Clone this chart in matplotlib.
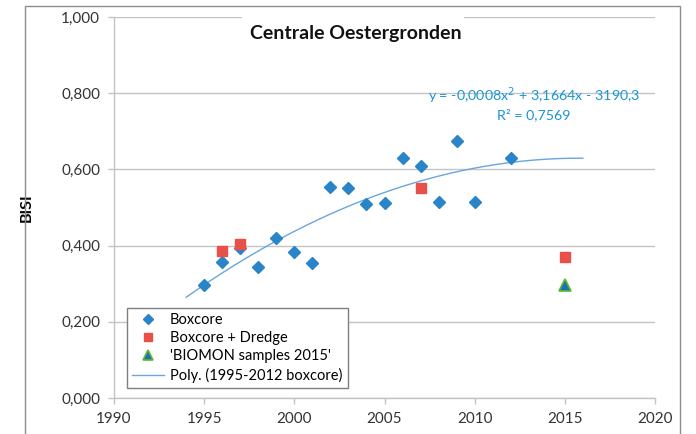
import numpy as np
import matplotlib
matplotlib.use("Agg")
import matplotlib.pyplot as plt
from matplotlib.patches import Rectangle
from matplotlib.ticker import FuncFormatter

plt.rcParams['font.family'] = ['Lato', 'DejaVu Sans']

# Boxcore
box_years = [1995, 1996, 1997, 1998, 1999, 2000, 2001, 2002, 2003, 2004,
             2005, 2006, 2007, 2008, 2009, 2010, 2012]
box_bisi = [0.297, 0.357, 0.394, 0.345, 0.420, 0.384, 0.355, 0.554, 0.551, 0.509,
            0.511, 0.630, 0.609, 0.514, 0.675, 0.515, 0.630]

# Boxcore + Dredge
dredge_years = [1996, 1997, 2007, 2015]
dredge_bisi = [0.387, 0.405, 0.551, 0.370]

# BIOMON samples 2015
biomon_years = [2015]
biomon_bisi = [0.296]

x_ticks = [1990, 1995, 2000, 2005, 2010, 2015, 2020]
y_ticks = [0.0, 0.2, 0.4, 0.6, 0.8, 1.0]

blue = '#2a84c8'
red = '#e8504a'
grey = '#c4c4c4'

fig = plt.figure(figsize=(6.96, 4.34), dpi=100)
ax = fig.add_axes([114 / 696, 1 - 398 / 434, 541 / 696, 381 / 434])

# outer chart border
fig.patches.append(Rectangle((25 / 696, -0.1), 655 / 696, 1.1 - 6 / 434,
                             transform=fig.transFigure, fill=False,
                             edgecolor='#8c8c8c', linewidth=1.0))

ax.set_xlim(1990, 2020)
ax.set_ylim(0, 1.0)
ax.set_xticks(x_ticks)
ax.set_yticks(y_ticks)
ax.yaxis.set_major_formatter(FuncFormatter(lambda v, p: f"{v:.3f}".replace('.', ',')))
ax.grid(axis='y', color=grey, linewidth=1.0, zorder=0)
ax.set_axisbelow(True)
for s in ['top', 'right']:
    ax.spines[s].set_visible(False)
for s in ['left', 'bottom']:
    ax.spines[s].set_color(grey)
    ax.spines[s].set_linewidth(1.0)
ax.tick_params(axis='both', colors=grey, length=4, width=1.0, labelsize=11,
               labelcolor='#333333')
ax.tick_params(axis='x', pad=6)
ax.tick_params(axis='y', pad=6)

ax.set_ylabel('BISI', fontsize=11.5, fontweight='bold', labelpad=20)

# quadratic trendline on the boxcore series
coef = np.polyfit(box_years, box_bisi, 2)
xs = np.linspace(1994, 2016, 200)
ax.plot(xs, np.polyval(coef, xs), color='#6aa6dc', linewidth=1.0,
        label='Poly. (1995-2012 boxcore)', zorder=2)

ax.plot(box_years, box_bisi, linestyle='none', marker='D', markersize=6.2,
        color=blue, label='Boxcore', zorder=3)
ax.plot(dredge_years, dredge_bisi, linestyle='none', marker='s', markersize=7.5,
        color=red, label='Boxcore + Dredge', zorder=4)
ax.plot(biomon_years, biomon_bisi, linestyle='none', marker='^', markersize=9,
        markerfacecolor='#1f6fb8', markeredgecolor='#5cb82e', markeredgewidth=1.2,
        label="'BIOMON samples 2015'", zorder=4)

handles, labels = ax.get_legend_handles_labels()
order = [1, 2, 3, 0]
leg = ax.legend([handles[i] for i in order], [labels[i] for i in order],
                loc='lower left', bbox_to_anchor=(13 / 541, 10 / 381),
                fontsize=10.5, frameon=True, fancybox=False, framealpha=1,
                edgecolor='#7f7f7f', handlelength=2.2, handletextpad=0.4,
                borderpad=0.35, labelspacing=0.3, borderaxespad=0,
                markerscale=0.85)
leg.get_frame().set_linewidth(1.0)

# title box hides the top gridline behind it
ax.add_patch(Rectangle((1997.1, 0.91), 12.3, 0.1, facecolor='white',
                       edgecolor='none', clip_on=False, zorder=5))
ax.text(2003.4, 0.958, 'Centrale Oestergronden', fontsize=14, fontweight='bold',
        ha='center', va='center', color='#111111', zorder=6)

ax.text(2013.3, 0.773, 'y = -0,0008x$^2$ + 3,1664x - 3190,3\nR² = 0,7569',
        fontsize=10.3, color='#1a96d4', ha='center', va='center', linespacing=1.25,
        zorder=6)

fig.savefig('out.png', dpi=100)
